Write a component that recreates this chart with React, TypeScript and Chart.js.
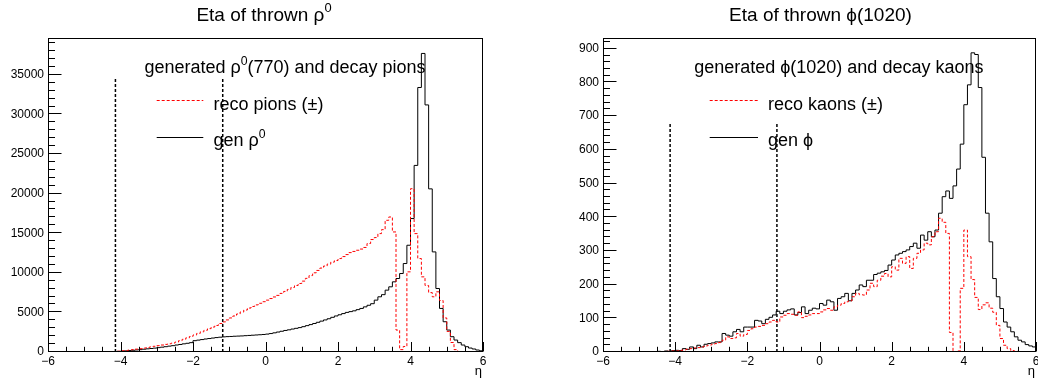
import React, { useEffect, useRef } from 'react';
import { Chart, registerables } from 'chart.js';

Chart.register(...registerables);

// ---------------- data ----------------
// 120 bins of width 0.1 from eta = -6 to 6
const ETA_MIN = -6;
const ETA_MAX = 6;

const rhoGen = [
  0, 0, 0, 0, 0, 0, 0, 0, 0, 0,
  2, 3, 5, 8, 12, 20, 30, 45, 60, 80,
  110, 140, 180, 220, 260, 300, 350, 400, 440, 490,
  550, 610, 670, 740, 800, 880, 950, 1030, 1100, 1180,
  1430, 1500, 1570, 1640, 1700, 1760, 1820, 1870, 1910, 1940,
  1960, 1990, 2010, 2030, 2060, 2090, 2120, 2150, 2180, 2210,
  2260, 2330, 2420, 2520, 2620, 2720, 2800, 2900, 2990, 3080,
  3200, 3330, 3460, 3600, 3750, 3900, 4050, 4200, 4380, 4550,
  4700, 4850, 5000, 5100, 5200, 5350, 5500, 5700, 5900, 6100,
  6550, 6970, 7240, 7810, 8230, 8860, 9280, 9910, 11170, 13480,
  16850, 23560, 33400, 37700, 31200, 20600, 12640, 8020, 5500, 3820,
  2770, 1930, 1510, 1180, 880, 670, 500, 380, 250, 150,
];

const rhoReco = [
  0, 0, 0, 0, 0, 0, 0, 0, 0, 0,
  0, 0, 2, 4, 6, 10, 20, 35, 60, 95,
  150, 190, 240, 300, 360, 420, 490, 560, 640, 720,
  800, 880, 960, 1040, 1120, 1250, 1420, 1600, 1780, 1960,
  2150, 2350, 2550, 2750, 2950, 3150, 3350, 3600, 3800, 4050,
  4300, 4550, 4800, 5050, 5300, 5550, 5750, 5950, 6150, 6350,
  6550, 6750, 6950, 7150, 7400, 7650, 7900, 8150, 8400, 8650,
  8950, 9300, 9650, 10000, 10300, 10600, 10850, 11100, 11350, 11550,
  11800, 12050, 12300, 12550, 12700, 12850, 13000, 13200, 13700, 14200,
  14450, 14950, 15450, 16630, 17050, 15160, 2770, 300, 700, 10120,
  20620, 14950, 11800, 9490, 8400, 7500, 6970, 7600, 6500, 4300,
  2600, 1200, 300, 50, 0, 0, 0, 0, 0, 0,
];

const phiGen = [
  0, 0, 0, 0, 0, 0, 0, 0, 0, 0,
  0, 0, 1, 1, 1, 2, 1, 3, 2, 4,
  5, 4, 10, 8, 15, 10, 20, 15, 23, 25,
  27, 30, 30, 55, 50, 47, 60, 67, 60, 74,
  74, 74, 94, 92, 84, 97, 103, 110, 121, 114,
  121, 125, 128, 110, 117, 134, 114, 124, 130, 128,
  144, 139, 154, 149, 124, 159, 164, 174, 152, 174,
  184, 199, 194, 213, 213, 230, 234, 238, 242, 258,
  273, 288, 293, 298, 303, 313, 323, 308, 347, 332,
  357, 342, 362, 412, 461, 478, 456, 493, 543, 617,
  734, 793, 888, 883, 785, 578, 412, 327, 218, 164,
  129, 89, 74, 60, 45, 35, 30, 22, 18, 15,
];

const phiReco = [
  0, 0, 0, 0, 0, 0, 0, 0, 0, 0,
  0, 0, 0, 1, 0, 1, 1, 2, 2, 3,
  3, 5, 6, 8, 10, 12, 13, 15, 18, 20,
  23, 25, 28, 35, 45, 40, 42, 55, 47, 52,
  64, 69, 74, 76, 79, 84, 89, 94, 89, 104,
  109, 114, 112, 109, 119, 102, 106, 110, 114, 114,
  119, 125, 129, 124, 134, 139, 144, 149, 152, 164,
  174, 170, 169, 184, 204, 194, 213, 225, 233, 223,
  253, 243, 278, 263, 283, 248, 278, 293, 303, 323,
  318, 342, 357, 397, 385, 352, 58, 0, 3, 189,
  362, 283, 215, 162, 126, 140, 146, 130, 118, 79,
  40, 20, 10, 4, 2, 0, 0, 0, 0, 0,
];

const etaTicks = [-6, -4, -2, 0, 2, 4, 6];
const rhoYTicks = [0, 5000, 10000, 15000, 20000, 25000, 30000, 35000];
const phiYTicks = [0, 100, 200, 300, 400, 500, 600, 700, 800, 900];
const detectorEdges = [-4.14, -1.18];
const rhoEdgeLineTop = 34500;
const phiEdgeLineTop = 678;
const rhoYMax = 39650;
const phiYMax = 932;

// ---------------- styling / layout ----------------
const FONT = "'Liberation Sans', Arial, Helvetica, sans-serif";

type Seg = { t: string; sup?: boolean };

type Panel = {
  gen: number[];
  reco: number[];
  yTicks: number[];
  yMax: number;
  yMinorStep: number;
  edgeTop: number;
  axisWidth: number;
  padRight: number;
  title: Seg[];
  titleX: number;
  header: Seg[];
  headerX: number;
  sampleX0: number;
  sampleX1: number;
  entryTextX: number;
  recoText: Seg[];
  genText: Seg[];
};

const panels: Panel[] = [
  {
    gen: rhoGen,
    reco: rhoReco,
    yTicks: rhoYTicks,
    yMax: rhoYMax,
    yMinorStep: 1000,
    edgeTop: rhoEdgeLineTop,
    axisWidth: 48,
    padRight: 36,
    title: [{ t: 'Eta of thrown ρ' }, { t: '0', sup: true }],
    titleX: 264,
    header: [{ t: 'generated ρ' }, { t: '0', sup: true }, { t: '(770) and decay pions' }],
    headerX: 285,
    sampleX0: 156.7,
    sampleX1: 203.3,
    entryTextX: 213.5,
    recoText: [{ t: 'reco pions (±)' }],
    genText: [{ t: 'gen ρ' }, { t: '0', sup: true }],
  },
  {
    gen: phiGen,
    reco: phiReco,
    yTicks: phiYTicks,
    yMax: phiYMax,
    yMinorStep: 20,
    edgeTop: phiEdgeLineTop,
    axisWidth: 84,
    padRight: 2,
    title: [{ t: 'Eta of thrown ϕ(1020)' }],
    titleX: 301.5,
    header: [{ t: 'generated ϕ(1020) and decay kaons' }],
    headerX: 319.8,
    sampleX0: 190.7,
    sampleX1: 239,
    entryTextX: 249,
    recoText: [{ t: 'reco kaons (±)' }],
    genText: [{ t: 'gen ϕ' }],
  },
];

function histPoints(vals: number[]) {
  const w = (ETA_MAX - ETA_MIN) / vals.length;
  const pts = vals.map((v, i) => ({ x: ETA_MIN + i * w, y: v }));
  pts.push({ x: ETA_MAX, y: vals[vals.length - 1] });
  return pts;
}

function drawRich(
  ctx: CanvasRenderingContext2D,
  segs: Seg[],
  x: number,
  y: number,
  size: number,
  align: 'left' | 'center'
) {
  const supSize = size * 0.68;
  const widths = segs.map((s) => {
    ctx.font = `${s.sup ? supSize : size}px ${FONT}`;
    return ctx.measureText(s.t).width;
  });
  const total = widths.reduce((a, b) => a + b, 0);
  let cx = align === 'center' ? x - total / 2 : x;
  ctx.textAlign = 'left';
  ctx.textBaseline = 'alphabetic';
  segs.forEach((s, i) => {
    ctx.font = `${s.sup ? supSize : size}px ${FONT}`;
    ctx.fillText(s.t, cx, s.sup ? y - size * 0.45 : y);
    cx += widths[i];
  });
}

function fmtEta(v: number) {
  return v < 0 ? '\u2212' + Math.abs(v) : String(v);
}

function decorPlugin(p: Panel) {
  return {
    id: 'rootDecor',
    beforeDatasetsDraw(chart: any) {
      const { ctx, scales } = chart;
      const x = scales.x;
      const y = scales.y;
      ctx.save();
      ctx.strokeStyle = '#000';
      ctx.lineWidth = 1.5;
      ctx.setLineDash([3, 2]);
      for (const eta of detectorEdges) {
        const px = x.getPixelForValue(eta);
        ctx.beginPath();
        ctx.moveTo(px, y.getPixelForValue(0));
        ctx.lineTo(px, y.getPixelForValue(p.edgeTop));
        ctx.stroke();
      }
      ctx.restore();
    },
    afterDraw(chart: any) {
      const { ctx, chartArea: a, scales } = chart;
      const x = scales.x;
      const y = scales.y;
      ctx.save();
      ctx.strokeStyle = '#000';
      ctx.fillStyle = '#000';
      ctx.lineWidth = 1;
      ctx.setLineDash([]);
      // frame
      const L = Math.round(a.left) + 0.5;
      const R = Math.round(a.right) - 0.5;
      const T = Math.round(a.top) + 0.5;
      const B = Math.round(a.bottom) - 0.5;
      ctx.strokeRect(L, T, R - L, B - T);
      // y ticks (inside)
      ctx.beginPath();
      for (let v = 0; v <= p.yMax + 1e-9; v += p.yMinorStep) {
        const major = p.yTicks.includes(Math.round(v));
        const py = Math.round(y.getPixelForValue(v)) - 0.5;
        ctx.moveTo(L, py);
        ctx.lineTo(L + (major ? 13 : 6.5), py);
      }
      // x ticks (inside)
      for (let v = ETA_MIN; v <= ETA_MAX + 1e-9; v += 0.5) {
        const major = etaTicks.includes(v);
        const px = Math.round(x.getPixelForValue(v)) + 0.5;
        ctx.moveTo(px, B);
        ctx.lineTo(px, B - (major ? 9.5 : 4.7));
      }
      ctx.stroke();

      // title
      drawRich(ctx, p.title, p.titleX, 20.5, 19, 'center');
      // legend
      drawRich(ctx, p.header, p.headerX, 73.3, 18, 'center');
      ctx.lineWidth = 1;
      ctx.strokeStyle = '#ff0000';
      ctx.setLineDash([3, 2]);
      ctx.beginPath();
      ctx.moveTo(p.sampleX0, 100.5);
      ctx.lineTo(p.sampleX1, 100.5);
      ctx.stroke();
      ctx.strokeStyle = '#000';
      ctx.setLineDash([]);
      ctx.beginPath();
      ctx.moveTo(p.sampleX0, 137.5);
      ctx.lineTo(p.sampleX1, 137.5);
      ctx.stroke();
      drawRich(ctx, p.recoText, p.entryTextX, 109.5, 18, 'left');
      drawRich(ctx, p.genText, p.entryTextX, 146, 18, 'left');

      // axis title
      ctx.font = `13px ${FONT}`;
      ctx.textAlign = 'right';
      ctx.textBaseline = 'alphabetic';
      ctx.fillText('η', Math.round(a.right) - 1, 375);
      ctx.restore();
    },
  };
}

function makeChart(canvas: HTMLCanvasElement, p: Panel) {
  return new Chart(canvas, {
    type: 'line',
    data: {
      datasets: [
        {
          label: 'reco',
          data: histPoints(p.reco),
          borderColor: '#ff0000',
          borderWidth: 1,
          borderDash: [3, 2],
          stepped: 'before',
          pointRadius: 0,
          fill: false,
          tension: 0,
        },
        {
          label: 'gen',
          data: histPoints(p.gen),
          borderColor: '#000000',
          borderWidth: 1,
          stepped: 'before',
          pointRadius: 0,
          fill: false,
          tension: 0,
        },
      ],
    },
    options: {
      animation: false,
      responsive: false,
      devicePixelRatio: 1,
      events: [],
      layout: { padding: { top: 38, right: p.padRight, left: 0, bottom: 0 } },
      plugins: {
        legend: { display: false },
        tooltip: { enabled: false },
        title: { display: false },
      },
      scales: {
        x: {
          type: 'linear',
          min: ETA_MIN,
          max: ETA_MAX,
          afterFit: (s: any) => {
            s.height = 31;
            s.paddingLeft = 0;
            s.paddingRight = 0;
          },
          afterBuildTicks: (s: any) => {
            s.ticks = etaTicks.map((v) => ({ value: v }));
          },
          ticks: {
            callback: (v: any) => fmtEta(Number(v)),
            font: { family: FONT, size: 12 },
            color: '#000',
            padding: 2,
            maxRotation: 0,
            autoSkip: false,
          },
          grid: { display: false, drawTicks: false },
          border: { display: false },
        },
        y: {
          type: 'linear',
          min: 0,
          max: p.yMax,
          afterFit: (s: any) => {
            s.width = p.axisWidth;
            s.paddingTop = 0;
            s.paddingBottom = 0;
          },
          afterBuildTicks: (s: any) => {
            s.ticks = p.yTicks.map((v) => ({ value: v }));
          },
          ticks: {
            callback: (v: any) => String(v),
            font: { family: FONT, size: 12 },
            color: '#000',
            padding: 4,
            autoSkip: false,
          },
          grid: { display: false, drawTicks: false },
          border: { display: false },
        },
      },
    } as any,
    plugins: [decorPlugin(p) as any],
  });
}

export default function App() {
  const leftRef = useRef<HTMLCanvasElement>(null);
  const rightRef = useRef<HTMLCanvasElement>(null);

  useEffect(() => {
    const c1 = makeChart(leftRef.current!, panels[0]);
    const c2 = makeChart(rightRef.current!, panels[1]);
    return () => {
      c1.destroy();
      c2.destroy();
    };
  }, []);

  return (
    <div
      style={{
        position: 'absolute',
        left: 0,
        top: 0,
        width: 1038,
        height: 383,
        background: '#ffffff',
        overflow: 'hidden',
      }}
    >
      <canvas
        ref={leftRef}
        width={519}
        height={383}
        style={{ position: 'absolute', left: 0, top: 0, width: 519, height: 383 }}
      />
      <canvas
        ref={rightRef}
        width={519}
        height={383}
        style={{ position: 'absolute', left: 519, top: 0, width: 519, height: 383 }}
      />
    </div>
  );
}
